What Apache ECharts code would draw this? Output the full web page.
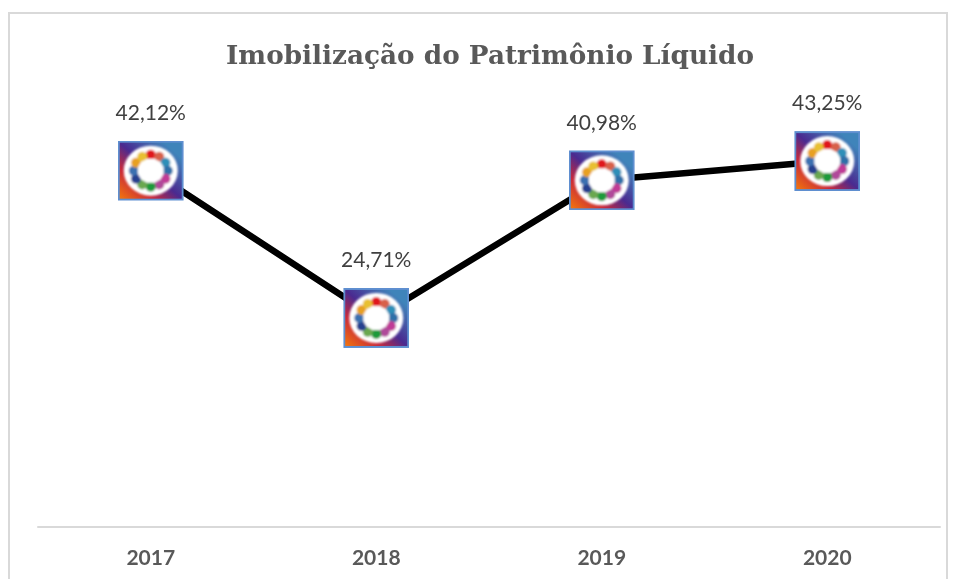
<!DOCTYPE html>
<html>
<head>
<meta charset="utf-8">
<style>html,body{margin:0;padding:0;background:#fff}#main{width:954px;height:579px}</style>
<script src="https://cdn.jsdelivr.net/npm/echarts@6/dist/echarts.min.js"></script>
</head>
<body>
<div id="main"></div>
<script>
const years = ['2017', '2018', '2019', '2020'];
const imobilizacao = [42.12, 24.71, 40.98, 43.25];
const chartTitle = 'Imobilização do Patrimônio Líquido';

// logo colours, clockwise from the top
const blobColors = ['#e0141c', '#d8604a', '#2f8fb8', '#2f6fa8', '#c03a96', '#b0489a', '#1f9a3a', '#6aa84f', '#27408f', '#3a6fb0', '#e8a020', '#e8c030'];

function logoSvg() {
    let blobs = '';
    blobColors.forEach(function (c, i) {
        const a = i / blobColors.length * 2 * Math.PI;
        const x = 33 + 17 * Math.sin(a);
        const y = 30 - 16 * Math.cos(a);
        blobs += '<circle cx="' + x.toFixed(1) + '" cy="' + y.toFixed(1) + '" r="5" fill="' + c + '"/>';
    });
    const svg = '<svg xmlns="http://www.w3.org/2000/svg" width="66" height="60" viewBox="0 0 66 60">'
        + '<defs><linearGradient id="g" x1="0" y1="1" x2="1" y2="0">'
        + '<stop offset="0" stop-color="#f57a0a"/><stop offset="0.28" stop-color="#c8283a"/>'
        + '<stop offset="0.5" stop-color="#4a2a90"/><stop offset="0.85" stop-color="#3f84ba"/>'
        + '</linearGradient><filter id="b"><feGaussianBlur stdDeviation="1"/></filter></defs>'
        + '<rect x="1" y="1" width="64" height="58" fill="url(#g)" stroke="#5f8fd0" stroke-width="2"/>'
        + '<g filter="url(#b)"><ellipse cx="33" cy="30" rx="27" ry="25" fill="#fff"/>' + blobs
        + '<ellipse cx="33" cy="30" rx="13" ry="12" fill="#fff"/></g>'
        + '</svg>';
    return 'image://data:image/svg+xml;charset=utf-8,' + encodeURIComponent(svg);
}

const myChart = echarts.init(document.getElementById('main'), null, {renderer: 'canvas'});

const option = {
    animation: false,
    backgroundColor: '#fff',
    graphic: [{
        type: 'rect',
        silent: true,
        z: -1,
        shape: {x: 9, y: 13, width: 938, height: 600},
        style: {fill: '#fff', stroke: '#d9d9d9', lineWidth: 2}
    }],
    title: {
        text: chartTitle,
        left: 221,
        top: 39,
        textStyle: {
            fontFamily: 'DejaVu Serif',
            fontWeight: 'bold',
            fontSize: 26.3,
            color: '#595959'
        }
    },
    grid: {left: 38, right: 14, top: 104, bottom: 52},
    xAxis: {
        type: 'category',
        data: years,
        axisTick: {show: false},
        axisLine: {lineStyle: {color: '#d9d9d9', width: 2}},
        axisLabel: {
            margin: 21,
            fontFamily: 'Lato',
            fontWeight: 'bold',
            fontSize: 21,
            color: '#595959'
        }
    },
    yAxis: {type: 'value', min: 0, max: 50, show: false},
    series: [{
        type: 'line',
        data: imobilizacao,
        symbol: logoSvg(),
        symbolSize: [66, 60],
        showAllSymbol: true,
        lineStyle: {color: '#000', width: 6.5},
        label: {
            show: true,
            position: 'top',
            distance: 17,
            fontFamily: 'Lato',
            fontSize: 21,
            color: '#404040',
            formatter: function (p) {
                return p.value.toFixed(2).replace('.', ',') + '%';
            }
        }
    }]
};
myChart.setOption(option);
</script>
</body>
</html>
